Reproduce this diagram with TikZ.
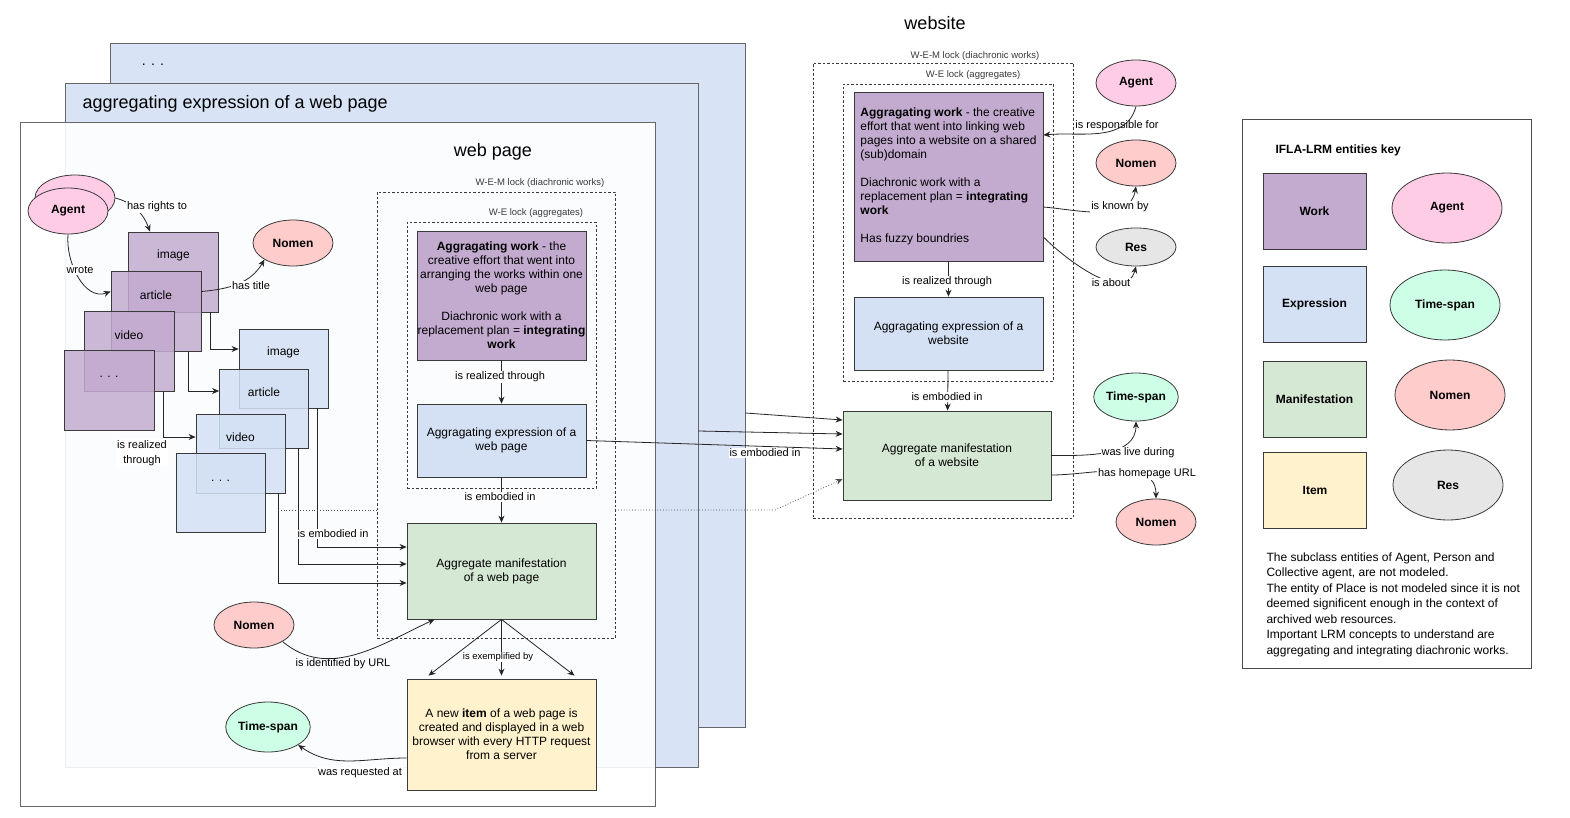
\documentclass[tikz,border=0pt]{standalone}
\usepackage{fontspec}
\setmainfont{Liberation Sans}
\usepackage{tikz}
\usetikzlibrary{arrows.meta, shapes, shapes.geometric, positioning, calc}

\definecolor{workc}{HTML}{C3ABD0}
\definecolor{exprc}{HTML}{D4E1F5}
\definecolor{manic}{HTML}{D5E8D4}
\definecolor{itemc}{HTML}{FFF2CC}
\definecolor{agentc}{HTML}{FFCCE6}
\definecolor{nomenc}{HTML}{FFCCCC}
\definecolor{timec}{HTML}{CCFFE6}
\definecolor{resc}{HTML}{E6E6E6}
\definecolor{pagec}{HTML}{D8E4F6}
\definecolor{linec}{HTML}{3A3A3A}

\tikzset{
  box/.style={draw=linec, line width=0.8pt, align=center, inner sep=0pt},
  workbox/.style={box, fill=workc},
  exprbox/.style={box, fill=exprc},
  manibox/.style={box, fill=manic},
  itembox/.style={box, fill=itemc},
  pagebox/.style={draw=black!60, line width=0.8pt, inner sep=0pt, minimum width=635, minimum height=684},
  layerbox/.style={box, fill opacity=0.85, minimum width=90, minimum height=80},
  entity/.style={ellipse, draw=linec, line width=0.8pt, inner sep=0pt, minimum width=80, minimum height=46, font=\fontsize{12}{14}\selectfont\bfseries},
  lock/.style={draw=linec, line width=0.7pt, dash pattern=on 2.5pt off 2pt, inner sep=0pt},
  locktext/.style={font=\fontsize{9.5}{11}\selectfont, text=linec},
  lbl/.style={fill=white, inner sep=1pt, font=\fontsize{11}{13}\selectfont},
  title/.style={font=\fontsize{18}{21}\selectfont},
  conn/.style={-{Stealth[length=7pt,width=6pt]}, line width=0.8pt, draw=black!85},
}

\begin{document}
\begin{tikzpicture}[x=1pt,y=-1pt, every node/.append style={font=\fontsize{12}{14}\selectfont}]
\useasboundingbox (0,0) rectangle (1570,818);

% stacked pages
\node[pagebox, fill=pagec] (pageback) at (427.5,385) {};
\node[pagebox, fill=pagec, minimum width=633] (pagemid) at (381.5,425) {};
\node[pagebox, fill=white, fill opacity=0.9] (pagefront) at (337.5,464) {};
\node[font=\fontsize{14}{16}\selectfont] (tback) at (153,65) {. . .};
\node[title, anchor=west] (tmid) at (79,104) {aggregating expression of a web page};
\node[title] (tpage) at (493,152) {web page};
\node[title] (tsite) at (935,23) {website};

% parts of the web page
\node[entity, fill=agentc] (agentb) at (75,198) {};
\node[entity, fill=agentc] (agent) at (68,211) {Agent};
\node[entity, fill=nomenc] (nomtitle) at (293,243) {Nomen};

\node[layerbox, fill=workc, label={[anchor=center,yshift=-24pt]north:image}] (wimage) at (173.5,272) {};
\node[layerbox, fill=workc, label={[anchor=center,yshift=-24pt]north:article}] (warticle) at (156,311.5) {};
\node[layerbox, fill=workc, label={[anchor=center,yshift=-24pt]north:video}] (wvideo) at (129,351.5) {};
\node[layerbox, fill=workc, label={[anchor=center,yshift=-27pt]north:. . .}] (wdots) at (109,390.5) {};

\node[layerbox, fill=exprc, minimum width=89, minimum height=79, label={[anchor=center,yshift=-24pt]north:image}] (eimage) at (283.5,368.5) {};
\node[layerbox, fill=exprc, minimum width=89, minimum height=79, label={[anchor=center,yshift=-24pt]north:article}] (earticle) at (264,408.5) {};
\node[layerbox, fill=exprc, minimum width=89, minimum height=79, label={[anchor=center,yshift=-24pt]north:video}] (evideo) at (240.5,453.5) {};
\node[layerbox, fill=exprc, minimum width=89, minimum height=79, label={[anchor=center,yshift=-28pt]north:. . .}] (edots) at (220.5,492.5) {};

\draw[conn] (agentb.east) to[out=-15,in=110] ([xshift=-23.5pt]wimage.north);
\draw[conn] (agent.south) to[out=-95,in=200] ([yshift=20pt]warticle.west);
\draw[conn] ([yshift=20pt]warticle.east) to[out=5,in=-120] (nomtitle.south west);
\node[lbl] (lrights) at (157,207) {has rights to};
\node[lbl] (lwrote) at (80,270) {wrote};
\node[lbl] (ltitle) at (251,286) {has title};

\draw[conn] ([xshift=-9pt]wimage.south east) |- ([yshift=19.5pt]eimage.west);
\draw[conn] ([xshift=-13pt]warticle.south east) |- ([yshift=17.5pt]earticle.west);
\draw[conn] ([xshift=-11pt]wvideo.south east) |- ([yshift=16.5pt]evideo.west);
\node[lbl, align=center, font=\fontsize{11}{15}\selectfont] (lrealparts) at (142,453) {is realized\\through};

% web page lock
\node[lock, minimum width=238, minimum height=446] (pagewem) at (496,415) {};
\node[lock, minimum width=189, minimum height=266] (pagewe) at (501.5,355) {};
\node[locktext] (tpagewem) at (540,183) {W-E-M lock (diachronic works)};
\node[locktext] (tpagewe) at (536,213) {W-E lock (aggregates)};

\node[workbox, minimum width=169, minimum height=129] (pwork) at (501.5,295.5)
  {\textbf{Aggragating work} - the\\creative effort that went into\\arranging the works within one\\web page\\[14pt]Diachronic work with a\\replacement plan = \textbf{integrating}\\\textbf{work}};
\node[exprbox, minimum width=169, minimum height=73] (pexpr) at (501.5,440.5) {Aggragating expression of a\\web page};
\node[manibox, minimum width=189, minimum height=96] (pmani) at (501.5,571) {Aggregate manifestation\\of a web page};
\node[itembox, minimum width=189, minimum height=111] (pitem) at (501.5,734.5)
  {A new \textbf{item} of a web page is\\created and displayed in a web\\browser with every HTTP request\\from a server};
\node[entity, fill=nomenc] (nomurl) at (254,625) {Nomen};
\node[entity, fill=timec, minimum height=50] (timereq) at (268,727) {Time-span};

\draw[conn] (pwork) -- (pexpr);
\draw[conn] (pexpr) -- (pmani);
\node[lbl] (lpreal) at (500,377) {is realized through};
\node[lbl] (lpemb) at (500,497) {is embodied in};

\draw[conn] ([xshift=-11pt]eimage.south east) |- ([yshift=24pt]pmani.west);
\draw[conn] ([xshift=-11pt]earticle.south east) |- ([yshift=7pt]pmani.west);
\draw[conn] ([xshift=-7pt]evideo.south east) |- ([yshift=-12pt]pmani.west);
\node[lbl] (lpartemb) at (333,534) {is embodied in};

\draw[conn] (pmani.south) -- ([xshift=-73pt,yshift=3pt]pitem.north);
\draw[conn] (pmani.south) -- ([yshift=3pt]pitem.north);
\draw[conn] (pmani.south) -- ([xshift=73pt,yshift=3pt]pitem.north);
\node[lbl, font=\fontsize{9.5}{11}\selectfont] (lexempl) at (498,657) {is exemplified by};

\draw[conn] (nomurl.south east) to[out=-40,in=-155] ([xshift=-67pt]pmani.south);
\node[lbl, fill=none] (lurl) at (343,664) {is identified by URL};
\draw[conn] ([yshift=-23.5pt]pitem.west) to[out=180,in=-35] (timereq.south east);
\node[lbl] (lreq) at (360,773) {was requested at};

% website
\node[lock, minimum width=260, minimum height=455] (sitewem) at (943,290.5) {};
\node[lock, minimum width=210, minimum height=297] (sitewe) at (948,232.5) {};
\node[locktext] (tsitewem) at (975,56) {W-E-M lock (diachronic works)};
\node[locktext] (tsitewe) at (973,75) {W-E lock (aggregates)};

\node[workbox, minimum width=189, minimum height=169, align=left] (swork) at (948.5,176.5)
  {\textbf{Aggragating work} - the creative\\effort that went into linking web\\pages into a website on a shared\\(sub)domain\\[14pt]Diachronic work with a\\replacement plan = \textbf{integrating}\\\textbf{work}\\[14pt]Has fuzzy boundries};
\node[exprbox, minimum width=189, minimum height=73] (sexpr) at (948.5,333.5) {Aggragating expression of a\\website};
\node[manibox, minimum width=208, minimum height=89] (smani) at (947,455.5) {Aggregate manifestation\\of a website};

\draw[conn] (swork) -- (sexpr);
\draw[conn] (sexpr) -- (smani);
\node[lbl] (lsreal) at (947,282) {is realized through};
\node[lbl] (lsemb) at (947,397) {is embodied in};

\node[entity, fill=agentc] (sagent) at (1136,83) {Agent};
\node[entity, fill=nomenc] (snomen) at (1136,163) {Nomen};
\node[entity, fill=resc, minimum height=38] (sres) at (1136,247) {Res};
\node[entity, fill=timec, minimum height=48] (stime) at (1136,397) {Time-span};
\node[entity, fill=nomenc] (shome) at (1156,522) {Nomen};

\draw[conn] (sagent.south) to[out=-105,in=5] ([yshift=41.5pt]swork.east);
\draw[conn] ([yshift=-30.5pt]swork.east) to[out=-5,in=-100] (snomen.south);
\draw[conn] ([yshift=-60.5pt]swork.east) to[out=-45,in=-105] (sres.south);
\draw[conn] (smani.east) to[out=0,in=-90] (stime.south);
\draw[conn] ([yshift=-19.5pt]smani.east) to[out=0,in=90] (shome.north);
\node[lbl, fill=none] (lresp) at (1117,126) {is responsible for};
\node[lbl] (lknown) at (1120,207) {is known by};
\node[lbl] (labout) at (1111,283) {is about};
\node[lbl] (llive) at (1138,453) {was live during};
\node[lbl] (lhome) at (1147,474) {has homepage URL};

% web page parts embodied in the website
\draw[conn] ([yshift=-28pt]pageback.east) -- ([yshift=35.5pt]smani.west);
\draw[conn] ([yshift=-6pt]pagemid.east) -- ([yshift=21.5pt]smani.west);
\draw[conn] (pexpr.east) -- ([yshift=6.5pt]smani.west);
\node[lbl] (lsiteemb) at (765,453) {is embodied in};
\coordinate (dotstart) at (278,510);
\coordinate (dotbend) at (775,510);
\draw[black!70, line width=0.8pt, dotted] (dotstart) -- (dotstart -| pagewem.west);
\draw[conn, black!70, dotted] (dotstart -| pagewem.east) -- (dotbend) -- ([yshift=-23.5pt]smani.west);

% key
\node[draw=black!70, line width=0.8pt, minimum width=289, minimum height=549] (keybox) at (1386.5,393.5) {};
\node[anchor=west, font=\fontsize{12}{14}\selectfont\bfseries] (keytitle) at (1272,150) {IFLA-LRM entities key};
\node[workbox, minimum width=103, minimum height=76, font=\fontsize{12}{14}\selectfont\bfseries] (keywork) at (1314.5,211) {Work};
\node[exprbox, minimum width=103, minimum height=76, font=\fontsize{12}{14}\selectfont\bfseries] (keyexpr) at (1314.5,304.5) {Expression};
\node[manibox, minimum width=103, minimum height=76, font=\fontsize{12}{14}\selectfont\bfseries] (keymani) at (1314.5,399) {Manifestation};
\node[itembox, minimum width=103, minimum height=76, font=\fontsize{12}{14}\selectfont\bfseries] (keyitem) at (1315,490.5) {Item};
\node[entity, fill=agentc, minimum width=110, minimum height=70] (keyagent) at (1447,208) {Agent};
\node[entity, fill=timec, minimum width=110, minimum height=70] (keytime) at (1445,305) {Time-span};
\node[entity, fill=nomenc, minimum width=110, minimum height=70] (keynomen) at (1450,395) {Nomen};
\node[entity, fill=resc, minimum width=110, minimum height=70] (keyres) at (1448,485) {Res};
\node[anchor=north west, align=left, font=\fontsize{12}{15.5}\selectfont] (keynote) at (1263,549)
  {The subclass entities of Agent, Person and\\Collective agent, are not modeled.\\The entity of Place is not modeled since it is not\\deemed significent enough in the context of\\archived web resources.\\Important LRM concepts to understand are\\aggregating and integrating diachronic works.};
\end{tikzpicture}
\end{document}
